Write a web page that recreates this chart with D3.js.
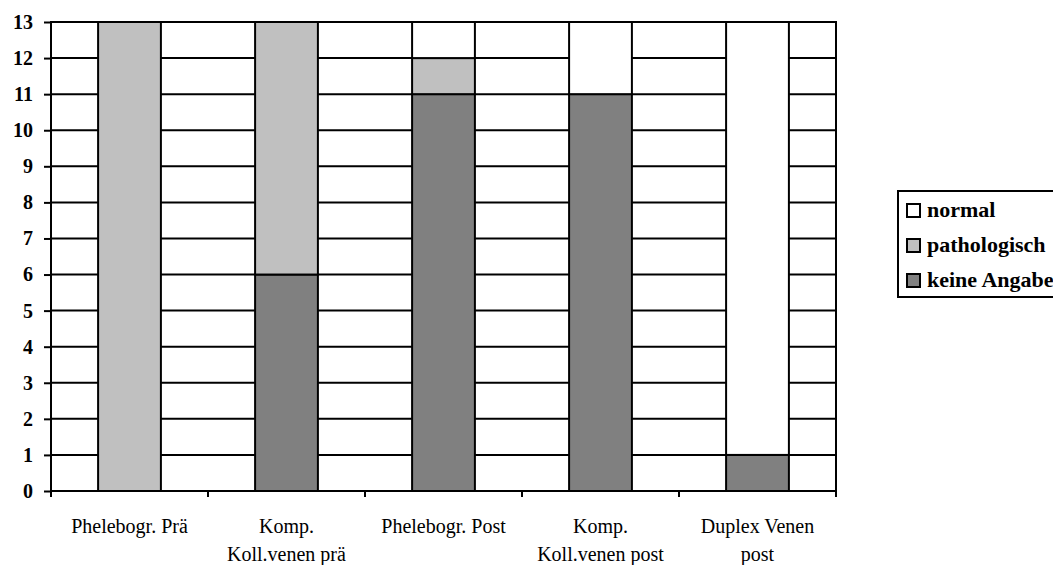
<!DOCTYPE html>
<html><head><meta charset="utf-8">
<script src="https://cdn.jsdelivr.net/npm/d3@7"></script>
<style>body{margin:0;background:#fff;}svg{display:block;} text{font-family:"Liberation Serif","Times New Roman",serif;}</style>
</head><body>
<svg id="chart" width="1053" height="565"></svg>
<script>
const categories = [["Phelebogr. Prä"], ["Komp.", "Koll.venen prä"], ["Phelebogr. Post"], ["Komp.", "Koll.venen post"], ["Duplex Venen", "post"]];
const seriesNames = ["keine Angabe", "pathologisch", "normal"];
const keineAngabe = [0, 6, 11, 11, 1];
const pathologisch = [13, 7, 1, 0, 0];
const normal = [0, 0, 1, 2, 12];
const yTicks = [0,1,2,3,4,5,6,7,8,9,10,11,12,13];
const colors = {"keine Angabe": "#808080", "pathologisch": "#C0C0C0", "normal": "#FFFFFF"};
const FONT = '"Liberation Serif", "Times New Roman", serif';

const svg = d3.select("#chart");
const L = 51, R = 836, T = 22, B = 491;
const rows = categories.map((c, i) => ({key: i, "keine Angabe": keineAngabe[i], "pathologisch": pathologisch[i], "normal": normal[i]}));
const x = d3.scaleBand().domain(categories.map((c, i) => i)).range([L, R]).paddingInner(0.6).paddingOuter(0.3);
const xOuter = d3.scaleBand().domain(categories.map((c, i) => i)).range([L, R]);
const y = d3.scaleLinear().domain([0, 13]).range([B, T]);

// gridlines
svg.append("g").selectAll("line").data(yTicks.filter(t => t > 0)).join("line")
  .attr("x1", L).attr("x2", R).attr("y1", d => y(d)).attr("y2", d => y(d))
  .attr("stroke", "#000").attr("stroke-width", 2);
// right border
svg.append("line").attr("x1", R).attr("x2", R).attr("y1", T - 1).attr("y2", B)
  .attr("stroke", "#000").attr("stroke-width", 2);

// bars
const stack = d3.stack().keys(seriesNames)(rows);
svg.append("g").selectAll("g").data(stack).join("g")
  .attr("fill", d => colors[d.key])
  .selectAll("rect").data(d => d.filter(p => p[1] - p[0] > 0)).join("rect")
  .attr("x", d => x(d.data.key)).attr("width", x.bandwidth())
  .attr("y", d => y(d[1])).attr("height", d => y(d[0]) - y(d[1]))
  .attr("stroke", "#000").attr("stroke-width", 2);

// y axis
const yAxis = svg.append("g").attr("transform", `translate(${L},0)`)
  .call(d3.axisLeft(y).tickValues(yTicks).tickSize(7).tickPadding(11).tickFormat(d3.format("d")));
yAxis.attr("font-family", null).attr("font-size", null);
yAxis.select(".domain").attr("stroke-width", 2).attr("d", `M-0,${B}V${T-1}`);
yAxis.selectAll(".tick line").attr("stroke-width", 2);
yAxis.selectAll("text").style("font-family", FONT)
  .style("font-weight", "bold").style("font-size", "20px").attr("fill", "#000");

// x axis
const xa = svg.append("g").attr("transform", `translate(0,${B})`);
xa.append("line").attr("x1", L).attr("x2", R).attr("stroke", "#000").attr("stroke-width", 2);
const bounds = categories.map((c, i) => xOuter(i)).concat([R]);
xa.selectAll("line.tk").data(bounds).join("line").attr("class", "tk")
  .attr("x1", d => d).attr("x2", d => d).attr("y1", 0).attr("y2", 6)
  .attr("stroke", "#000").attr("stroke-width", 2);
const lbl = xa.selectAll("text").data(categories).join("text")
  .attr("text-anchor", "middle")
  .style("font-family", FONT)
  .style("font-size", "20px").attr("fill", "#000");
lbl.each(function(d, i) {
  const t = d3.select(this);
  d.forEach((line, j) => {
    t.append("tspan").attr("x", xOuter(i) + xOuter.bandwidth() / 2).attr("y", 42 + j * 28).text(line);
  });
});

// legend
const lg = svg.append("g").attr("transform", "translate(898,191)");
lg.append("rect").attr("x", 0).attr("y", 0).attr("width", 175).attr("height", 106)
  .attr("fill", "#fff").attr("stroke", "#000").attr("stroke-width", 2);
const legendOrder = ["normal", "pathologisch", "keine Angabe"];
const items = lg.selectAll("g.it").data(legendOrder).join("g").attr("class", "it")
  .attr("transform", (d, i) => `translate(0,${26 + i * 35})`);
items.append("rect").attr("x", 9).attr("y", -13).attr("width", 13).attr("height", 13)
  .attr("fill", d => colors[d]).attr("stroke", "#000").attr("stroke-width", 2);
items.append("text").attr("x", 29).attr("y", 0).text(d => d)
  .style("font-family", FONT)
  .style("font-weight", "bold").style("font-size", "22px").attr("fill", "#000");
</script>
</body></html>
